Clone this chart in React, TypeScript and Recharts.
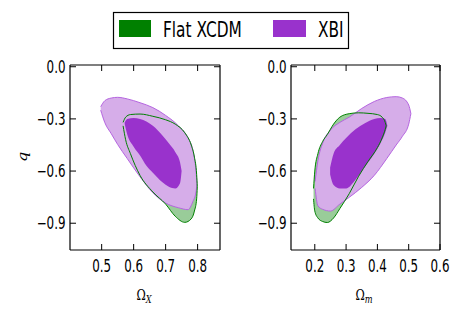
import React from "react";
import { ComposedChart, Area, XAxis, YAxis } from "recharts";

// contour boundaries: x value, [lower q, upper q]
const leftX = [0.401, 0.87];
const rightX = [0.124, 0.6];
const qDomain = [-1.054, 0.01];

const leftTicksX = [0.5, 0.6, 0.7, 0.8];
const rightTicksX = [0.2, 0.3, 0.4, 0.5, 0.6];
const ticksQ = [0, -0.3, -0.6, -0.9];

// Omega_X panel
const xcdmOuterL: [number, number, number][] = [
  [0.567, -0.34, -0.32], [0.575, -0.42, -0.29], [0.59, -0.5, -0.275], [0.62, -0.625, -0.272],
  [0.66, -0.72, -0.285], [0.7, -0.79, -0.305], [0.73, -0.86, -0.33], [0.76, -0.895, -0.38],
  [0.78, -0.875, -0.45], [0.79, -0.83, -0.52], [0.797, -0.76, -0.62], [0.799, -0.69, -0.69],
];
const xbiOuterL: [number, number, number][] = [
  [0.497, -0.25, -0.23], [0.51, -0.322, -0.195], [0.53, -0.385, -0.18], [0.55, -0.447, -0.176],
  [0.58, -0.528, -0.185], [0.62, -0.633, -0.207], [0.66, -0.725, -0.235], [0.7, -0.784, -0.28],
  [0.74, -0.811, -0.34], [0.77, -0.822, -0.41], [0.785, -0.776, -0.48], [0.795, -0.72, -0.6],
  [0.798, -0.67, -0.67],
];
const xbiInnerL: [number, number, number][] = [
  [0.572, -0.33, -0.32], [0.58, -0.39, -0.3], [0.6, -0.46, -0.295], [0.62, -0.51, -0.3],
  [0.64, -0.57, -0.315], [0.66, -0.61, -0.34], [0.69, -0.665, -0.395], [0.71, -0.69, -0.44],
  [0.73, -0.7, -0.49], [0.745, -0.67, -0.55], [0.75, -0.6, -0.6],
];

// Omega_m panel
const xcdmOuterR: [number, number, number][] = [
  [0.196, -0.76, -0.7], [0.2, -0.83, -0.6], [0.21, -0.87, -0.5], [0.225, -0.89, -0.43],
  [0.24, -0.896, -0.39], [0.26, -0.87, -0.33], [0.28, -0.816, -0.29], [0.31, -0.73, -0.27],
  [0.34, -0.63, -0.265], [0.37, -0.545, -0.268], [0.4, -0.465, -0.275], [0.415, -0.41, -0.29],
  [0.425, -0.36, -0.32], [0.428, -0.34, -0.34],
];
const xbiOuterR: [number, number, number][] = [
  [0.201, -0.7, -0.66], [0.21, -0.8, -0.54], [0.225, -0.82, -0.44], [0.25, -0.83, -0.364],
  [0.28, -0.79, -0.32], [0.31, -0.751, -0.29], [0.35, -0.694, -0.24], [0.39, -0.625, -0.2],
  [0.43, -0.528, -0.177], [0.46, -0.45, -0.172], [0.48, -0.4, -0.18], [0.5, -0.33, -0.22],
  [0.507, -0.27, -0.27],
];
const xbiInnerR: [number, number, number][] = [
  [0.249, -0.62, -0.58], [0.26, -0.68, -0.5], [0.28, -0.7, -0.45], [0.3, -0.7, -0.41],
  [0.33, -0.65, -0.36], [0.36, -0.575, -0.325], [0.39, -0.5, -0.3], [0.41, -0.44, -0.295],
  [0.425, -0.38, -0.3], [0.432, -0.34, -0.34],
];

const toRows = (c: [number, number, number][]) => c.map(([x, lo, hi]) => ({ x, q: [lo, hi] }));

const fontTick = "DejaVu Sans";

function BottomTick({ x, y, payload }: any) {
  return (
    <g>
      <line x1={x} y1={y} x2={x} y2={y - 6} stroke="#000" />
      <text transform={`translate(${x},${y + 21.5}) scale(0.7,1)`} textAnchor="middle" fontSize={17} fontFamily={fontTick} fill="#000">
        {payload.value.toFixed(1)}
      </text>
    </g>
  );
}

function LeftTick({ x, y, payload }: any) {
  const v = payload.value === 0 ? "0.0" : "\u2212" + Math.abs(payload.value).toFixed(1);
  return (
    <g>
      <line x1={x} y1={y} x2={x + 6} y2={y} stroke="#000" />
      <text transform={`translate(${x - 4.5},${y + 6}) scale(0.7,1)`} textAnchor="end" fontSize={17} fontFamily={fontTick} fill="#000">
        {v}
      </text>
    </g>
  );
}

function TopTick({ x, y }: any) {
  return <line x1={x} y1={y} x2={x} y2={y + 6} stroke="#000" />;
}

function RightTick({ x, y }: any) {
  return <line x1={x} y1={y} x2={x - 6} y2={y} stroke="#000" />;
}

function Panel({ left, right, xDomain, xTicks, outer, xbiOut, xbiIn }: any) {
  return (
    <div style={{ position: "absolute", left: 0, top: 0 }}>
      <ComposedChart width={463} height={327} margin={{ top: 64, bottom: 76, left: left - 1, right: 463 - right - 1 }}>
        <XAxis xAxisId="b" dataKey="x" type="number" domain={xDomain} ticks={xTicks} allowDataOverflow height={1}
          tickSize={0} tickMargin={0} tick={<BottomTick />} axisLine={{ stroke: "#000", strokeWidth: 1.2 }} tickLine={false} interval={0} />
        <XAxis xAxisId="t" orientation="top" dataKey="x" type="number" domain={xDomain} ticks={xTicks} allowDataOverflow height={1}
          tickSize={0} tickMargin={0} tick={<TopTick />} axisLine={{ stroke: "#000", strokeWidth: 1.2 }} tickLine={false} interval={0} />
        <YAxis yAxisId="l" type="number" domain={qDomain} ticks={ticksQ} allowDataOverflow width={1}
          tickSize={0} tickMargin={0} tick={<LeftTick />} axisLine={{ stroke: "#000", strokeWidth: 1.2 }} tickLine={false} interval={0} />
        <YAxis yAxisId="r" orientation="right" type="number" domain={qDomain} ticks={ticksQ} allowDataOverflow width={1}
          tickSize={0} tickMargin={0} tick={<RightTick />} axisLine={{ stroke: "#000", strokeWidth: 1.2 }} tickLine={false} interval={0} />
        <Area xAxisId="b" yAxisId="l" data={toRows(outer)} dataKey="q" type="monotone" fill="#99cc99" fillOpacity={1} stroke="none" isAnimationActive={false} />
        <Area xAxisId="b" yAxisId="l" data={toRows(xbiOut)} dataKey="q" type="monotone" fill="#d6ade9" fillOpacity={1} stroke="#b565e0" strokeWidth={1} isAnimationActive={false} />
        <Area xAxisId="b" yAxisId="l" data={toRows(xbiIn)} dataKey="q" type="monotone" fill="#9932cc" fillOpacity={1} stroke="none" isAnimationActive={false} />
        <Area xAxisId="b" yAxisId="l" data={toRows(outer)} dataKey="q" type="monotone" fill="none" stroke="#008000" strokeWidth={1} isAnimationActive={false} />
      </ComposedChart>
    </div>
  );
}

export default function App() {
  return (
    <div style={{ position: "absolute", left: 0, top: 0, width: 463, height: 327, background: "#fff" }}>
      <Panel left={70} right={220} xDomain={leftX} xTicks={leftTicksX} outer={xcdmOuterL} xbiOut={xbiOuterL} xbiIn={xbiInnerL} />
      <Panel left={291} right={440} xDomain={rightX} xTicks={rightTicksX} outer={xcdmOuterR} xbiOut={xbiOuterR} xbiIn={xbiInnerR} />
      <svg width={463} height={327} style={{ position: "absolute", left: 0, top: 0, pointerEvents: "none" }}>
        <rect x={113.5} y={12.5} width={235} height={36} fill="#fff" stroke="#000" strokeWidth={1.2} />
        <rect x={119} y={20} width={32} height={17} fill="#008000" />
        <text transform="translate(163,37) scale(0.7,1)" fontSize={22} fontFamily={fontTick} fill="#000">Flat XCDM</text>
        <rect x={273} y={20} width={33} height={17} fill="#9932cc" />
        <text transform="translate(318,37) scale(0.7,1)" fontSize={22} fontFamily={fontTick} fill="#000">XBI</text>
        <text transform="translate(27,157) rotate(-90) scale(1,0.75)" textAnchor="middle" fontSize={16} fontStyle="italic" fontFamily="DejaVu Serif" fill="#000">q</text>
        <text transform="translate(144,300) scale(0.75,1)" textAnchor="middle" fontSize={15} fontFamily="DejaVu Serif" fill="#000">
          Ω<tspan fontSize={11} fontStyle="italic" dy={3}>X</tspan>
        </text>
        <text transform="translate(364,300) scale(0.75,1)" textAnchor="middle" fontSize={15} fontFamily="DejaVu Serif" fill="#000">
          Ω<tspan fontSize={11} fontStyle="italic" dy={3}>m</tspan>
        </text>
      </svg>
    </div>
  );
}
